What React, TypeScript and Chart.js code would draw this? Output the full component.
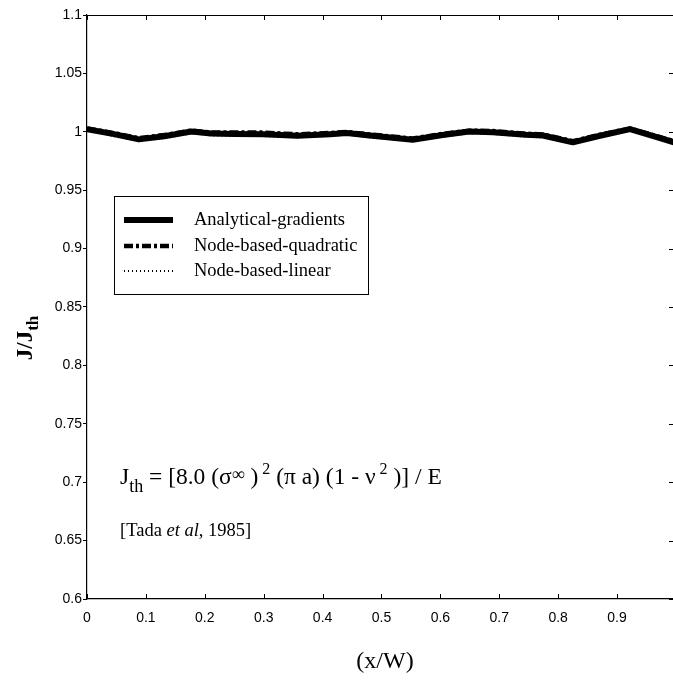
import React, { useEffect, useRef } from 'react';
import { Chart, registerables } from 'chart.js';

Chart.register(...registerables);

// ---- data ----
const xPositions = [0, 0.046, 0.088, 0.131, 0.177, 0.211, 0.25, 0.299, 0.357, 0.413, 0.441, 0.48, 0.553, 0.604, 0.649, 0.689, 0.745, 0.774, 0.825, 0.871, 0.922, 0.966, 1.0];
const analytical = [1.0022, 0.998, 0.9935, 0.9962, 1.0003, 0.9985, 0.9982, 0.998, 0.9966, 0.998, 0.999, 0.9968, 0.9932, 0.9972, 1.0003, 0.9996, 0.9974, 0.9968, 0.991, 0.9966, 1.0023, 0.9957, 0.9905];
const quadratic = [1.0028, 0.9988, 0.9945, 0.9972, 1.001, 0.9993, 0.9995, 0.9993, 0.9978, 0.999, 0.9998, 0.9978, 0.9942, 0.9982, 1.001, 1.0006, 0.9984, 0.9977, 0.992, 0.9975, 1.0028, 0.9965, 0.9914];
const linear = [1.0012, 0.9962, 0.9922, 0.9945, 0.9987, 0.9969, 0.9965, 0.9963, 0.9952, 0.9965, 0.9975, 0.9952, 0.9922, 0.9957, 0.9987, 0.9981, 0.9959, 0.9952, 0.9902, 0.9955, 1.0012, 0.9947, 0.9898];

const seriesNames = ['Analytical-gradients', 'Node-based-quadratic', 'Node-based-linear'];
const xAxisTitle = '(x/W)';
const yAxisMain = 'J/J';
const yAxisSub = 'th';
const xMin = 0, xMax = 0.995, xStep = 0.1;
const yMin = 0.6, yMax = 1.1, yStep = 0.05;

const SERIF = '"Liberation Serif", "Times New Roman", serif';
const SANS = '"Liberation Sans", Arial, sans-serif';

type Run = { t: string; size: number; dy?: number; style?: string };

function drawRuns(ctx: CanvasRenderingContext2D, x: number, y: number, runs: Run[]) {
  let cx = x;
  for (const r of runs) {
    ctx.font = `${r.style || ''} ${r.size}px ${SERIF}`;
    ctx.fillText(r.t, cx, y + (r.dy || 0));
    cx += ctx.measureText(r.t).width;
  }
}

const overlayPlugin = {
  id: 'overlay',
  afterDraw(chart: any) {
    const ctx: CanvasRenderingContext2D = chart.ctx;
    const { left, right, top, bottom } = chart.chartArea;
    ctx.save();
    ctx.strokeStyle = '#000';
    ctx.lineWidth = 1.2;
    ctx.setLineDash([]);
    // top frame
    ctx.beginPath();
    ctx.moveTo(left, top + 0.5);
    ctx.lineTo(right, top + 0.5);
    ctx.stroke();
    // inward ticks
    const xs = chart.scales.x;
    const ys = chart.scales.y;
    ctx.lineWidth = 1;
    ctx.beginPath();
    for (const t of xs.ticks) {
      const px = Math.round(xs.getPixelForValue(t.value)) + 0.5;
      ctx.moveTo(px, bottom);
      ctx.lineTo(px, bottom - 5);
      ctx.moveTo(px, top);
      ctx.lineTo(px, top + 5);
    }
    for (const t of ys.ticks) {
      const py = Math.round(ys.getPixelForValue(t.value)) + 0.5;
      ctx.moveTo(right, py);
      ctx.lineTo(right - 4, py);
    }
    ctx.stroke();

    // legend box
    const bx = 114, by = 196, bw = 254, bh = 98;
    ctx.fillStyle = '#fff';
    ctx.fillRect(bx, by, bw, bh);
    ctx.lineWidth = 1;
    ctx.strokeRect(bx + 0.5, by + 0.5, bw, bh);
    const rowsY = [220, 246, 271];
    chart.data.datasets.forEach((ds: any, i: number) => {
      const y = rowsY[i];
      ctx.strokeStyle = '#000';
      ctx.lineWidth = ds.borderWidth;
      ctx.setLineDash(ds.borderDash || []);
      ctx.beginPath();
      ctx.moveTo(124, y);
      ctx.lineTo(173, y);
      ctx.stroke();
      ctx.setLineDash([]);
      ctx.fillStyle = '#000';
      ctx.font = `18.5px ${SERIF}`;
      ctx.textBaseline = 'middle';
      ctx.fillText(ds.label, 194, y);
    });

    // formula
    ctx.fillStyle = '#000';
    ctx.textBaseline = 'alphabetic';
    drawRuns(ctx, 120, 484, [
      { t: 'J', size: 23.5 },
      { t: 'th', size: 18, dy: 8 },
      { t: ' = [8.0 (σ', size: 23.5 },
      { t: '∞', size: 18, dy: -4 },
      { t: ' )', size: 23.5 },
      { t: ' 2', size: 16, dy: -10 },
      { t: ' (π a) (1 - ν', size: 23.5 },
      { t: ' 2', size: 16, dy: -10 },
      { t: ' )] / E', size: 23.5 },
    ]);
    drawRuns(ctx, 120, 536, [
      { t: '[Tada ', size: 18.5 },
      { t: 'et al', size: 18.5, style: 'italic' },
      { t: ', 1985]', size: 18.5 },
    ]);

    // x axis title
    ctx.font = `24px ${SERIF}`;
    ctx.textAlign = 'center';
    ctx.fillText(xAxisTitle, 385, 668);

    // y axis title (rotated, with subscript)
    ctx.textAlign = 'left';
    ctx.translate(32, 338);
    ctx.rotate(-Math.PI / 2);
    ctx.font = `bold 23px ${SERIF}`;
    const w1 = ctx.measureText(yAxisMain).width;
    ctx.font = `bold 17px ${SERIF}`;
    const w2 = ctx.measureText(yAxisSub).width;
    const start = -(w1 + w2) / 2;
    ctx.font = `bold 23px ${SERIF}`;
    ctx.fillText(yAxisMain, start, 0);
    ctx.font = `bold 17px ${SERIF}`;
    ctx.fillText(yAxisSub, start + w1, 6);
    ctx.restore();
  },
};

function fmt(v: number) {
  return String(Number(v.toFixed(2)));
}

export default function App() {
  const ref = useRef<HTMLCanvasElement | null>(null);
  useEffect(() => {
    document.body.style.margin = '0';
    const canvas = ref.current!;
    const mk = (arr: number[]) => arr.map((y, i) => ({ x: xPositions[i], y }));
    const chart = new Chart(canvas, {
      type: 'line',
      data: {
        datasets: [
          { label: seriesNames[0], data: mk(analytical), borderColor: '#000', borderWidth: 6, pointRadius: 0, tension: 0, borderJoinStyle: 'round' as any },
          { label: seriesNames[1], data: mk(quadratic), borderColor: '#000', borderWidth: 4.5, borderDash: [9, 3, 3, 3], pointRadius: 0, tension: 0 },
          { label: seriesNames[2], data: mk(linear), borderColor: '#000', borderWidth: 2, borderDash: [1, 3], pointRadius: 0, tension: 0 },
        ],
      },
      options: {
        responsive: false,
        animation: false,
        devicePixelRatio: 1,
        layout: { padding: { top: 15, right: 0, left: 0, bottom: 0 } },
        plugins: { legend: { display: false }, tooltip: { enabled: false } },
        scales: {
          x: {
            type: 'linear',
            min: xMin,
            max: xMax,
            ticks: {
              stepSize: xStep,
              includeBounds: false,
              autoSkip: false,
              maxRotation: 0,
              padding: 11,
              color: '#000',
              font: { family: SANS, size: 14 },
              callback: (v: any) => fmt(v),
            },
            grid: { display: false, drawTicks: false },
            border: { display: true, color: '#000', width: 1.2 },
            afterFit: (s: any) => { s.height = 81; },
          },
          y: {
            type: 'linear',
            min: yMin,
            max: yMax,
            ticks: {
              stepSize: yStep,
              autoSkip: false,
              padding: 1,
              color: '#000',
              font: { family: SANS, size: 14 },
              callback: (v: any) => fmt(v),
            },
            grid: { display: true, drawOnChartArea: false, drawTicks: true, tickLength: 4, color: '#000' },
            border: { display: true, color: '#000', width: 1.2 },
            afterFit: (s: any) => { s.width = 87; },
          },
        },
      },
      plugins: [overlayPlugin],
    });
    return () => chart.destroy();
  }, []);
  return (
    <div style={{ position: 'fixed', left: 0, top: 0, width: 673, height: 680, overflow: 'hidden', background: '#fff' }}>
      <canvas ref={ref} width={673} height={680} style={{ width: 673, height: 680, display: 'block' }} />
    </div>
  );
}
